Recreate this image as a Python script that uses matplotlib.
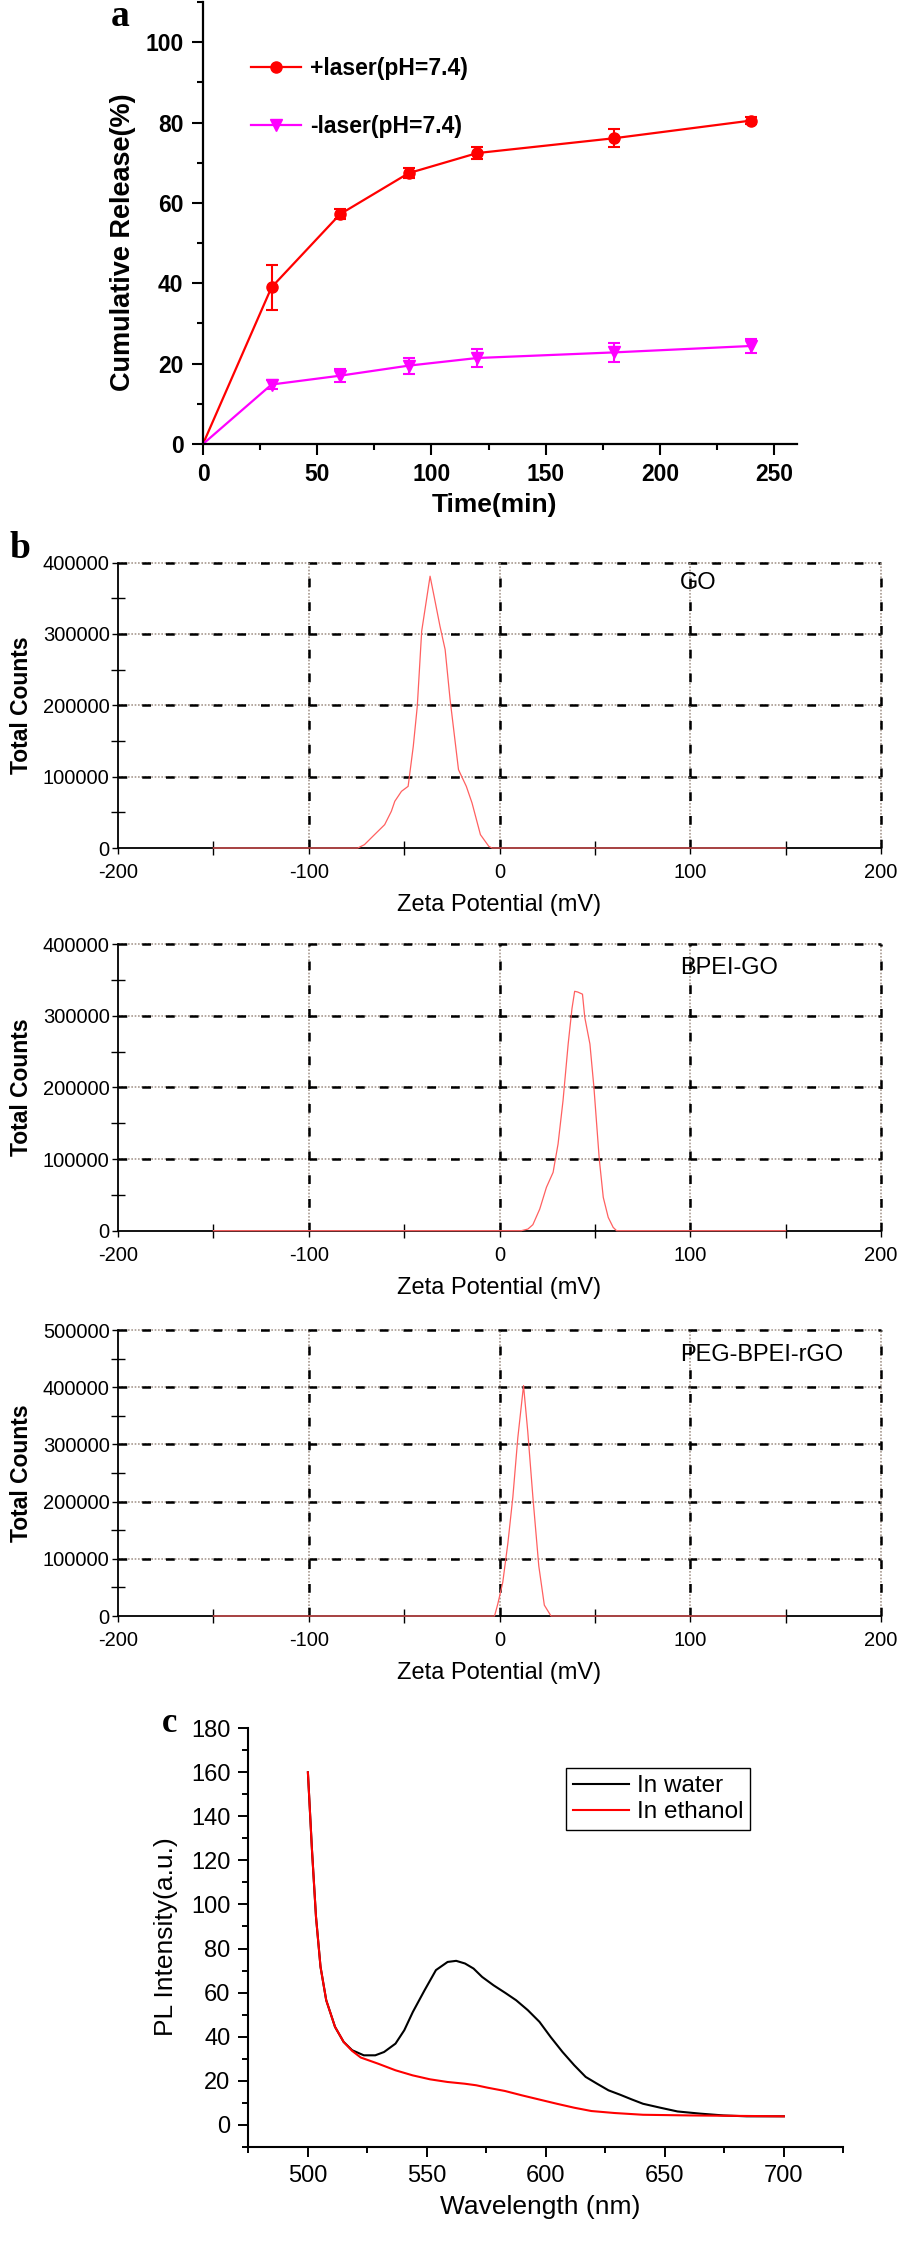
import matplotlib
matplotlib.use('Agg')
import matplotlib.pyplot as plt
from matplotlib.lines import Line2D
from matplotlib.ticker import MultipleLocator

plt.rcParams['font.family'] = ['Liberation Sans', 'DejaVu Sans']

# ---- panel a: cumulative release ----
time_min = [0, 30, 60, 90, 120, 180, 240]
laser_on = [0, 39.0, 57.2, 67.4, 72.4, 76.1, 80.5]
laser_on_err = [0, 5.6, 1.2, 1.3, 1.4, 2.3, 0.8]
laser_off = [0, 14.8, 17.0, 19.5, 21.4, 22.8, 24.4]
laser_off_err = [0, 1.2, 1.6, 2.0, 2.2, 2.3, 1.8]

# ---- panel b: zeta potential distributions ----
go_x = [-150, -74.3, -70.8, -66.4, -60.2, -56.7, -54.9, -51.4, -47.9, -45.2, -43.1, -40.8,
        -36.4, -34.3, -31.2, -28.5, -25.9, -21.5, -17.4, -14.4, -10, -5.6, -3.9, 150]
go_y = [0, 0, 4700, 16400, 32700, 51400, 65400, 79400, 86400, 142500, 198600, 303700,
        380800, 352800, 310700, 278000, 208000, 109800, 86400, 63100, 18700, 2300, 0, 0]
bpei_x = [-150, 11.4, 14.9, 17.5, 21.1, 24.6, 28.1, 30.7, 33.3, 36, 38, 39.4, 41, 43.5,
          44.7, 47.4, 49.5, 52.3, 54.4, 57, 59.6, 61.4, 150]
bpei_y = [0, 0, 2300, 8400, 30200, 60500, 81400, 121000, 181400, 260500, 310000, 334000,
          333000, 330000, 297700, 260500, 200000, 100000, 46500, 18600, 4600, 0, 0]
peg_x = [-150, -2.6, -0.9, 1.7, 4.4, 7, 9.6, 12.6, 14.8, 17.5, 20.6, 23.5, 27, 150]
peg_y = [0, 0, 21000, 58600, 127600, 208000, 311500, 402900, 323000, 208000, 87400,
         19000, 0, 0]
zeta_names = ['GO', 'BPEI-GO', 'PEG-BPEI-rGO']
zeta_ymax = [400000, 400000, 500000]

# ---- panel c: PL spectra ----
wl_water = [500, 501.7, 503.4, 505.3, 507.7, 511.4, 515, 518.6, 523.5, 528.3, 532, 536.8,
            540.5, 544.1, 549, 553.8, 558.7, 562.3, 566, 569.6, 573.2, 578, 583, 587.5,
            592.4, 597.3, 602, 607, 611.9, 616.7, 621.5, 626.3, 631.2, 636, 640.8, 648.1,
            655.3, 665, 674.6, 684.3, 700]
pl_water = [160, 125, 94.4, 71.7, 56.5, 44.4, 37.6, 33.8, 31.5, 31.5, 33, 36.8,
            42.9, 51.2, 61, 70.2, 73.9, 74.4, 73.2, 70.9, 67.1, 63.3, 59.8, 56.5,
            52, 46.7, 39.8, 33, 27, 21.7, 18.6, 15.6, 13.6, 11.5, 9.5, 7.7,
            6, 5, 4.2, 3.8, 3.8]
wl_ethanol = [500, 501.7, 503.4, 505.3, 507.7, 511.4, 515, 518.6, 522.2, 529.5, 536.8, 544,
              551.3, 558.6, 565.9, 570.7, 575.5, 582.8, 590, 597.3, 604.6, 611.9, 619.1,
              628.8, 640.8, 660.2, 700]
pl_ethanol = [160, 125, 94.4, 71.7, 56.5, 44.4, 37.6, 33.5, 30.5, 27.7, 24.7, 22.4,
              20.6, 19.4, 18.6, 17.9, 16.8, 15.3, 13.3, 11.4, 9.5, 7.7, 6.2,
              5.3, 4.5, 4.2, 3.8]

W, H = 898, 2242
fig = plt.figure(figsize=(W / 100, H / 100), dpi=100)


def ax_at(l, t, r, b):
    return fig.add_axes([l / W, 1 - b / H, (r - l) / W, (b - t) / H])


def txt(x, y, s, **kw):
    kw.setdefault('ha', 'center')
    kw.setdefault('va', 'center')
    fig.text(x / W, 1 - y / H, s, **kw)


# panel a
ax = ax_at(203, 2, 797, 444)
ax.plot(time_min, laser_on, color='#ff0000', lw=1.6)
ax.plot(time_min, laser_off, color='#ff00ff', lw=1.6)
ax.errorbar(time_min[1:], laser_on[1:], yerr=laser_on_err[1:], fmt='o', color='#ff0000',
            ms=8, capsize=4, capthick=1.5, elinewidth=1.5)
ax.errorbar(time_min[1:], laser_off[1:], yerr=laser_off_err[1:], fmt='v', color='#ff00ff',
            ms=8, capsize=4, capthick=1.5, elinewidth=1.5)
ax.set_xlim(0, 260)
ax.set_ylim(0, 110)
ax.set_xticks(range(0, 251, 50))
ax.set_xticklabels([str(v) for v in range(0, 251, 50)], fontweight='bold')
ax.set_yticks(range(0, 101, 20))
ax.set_yticklabels([str(v) for v in range(0, 101, 20)], fontweight='bold')
ax.xaxis.set_minor_locator(MultipleLocator(25))
ax.yaxis.set_minor_locator(MultipleLocator(10))
ax.tick_params(which='major', direction='out', length=8, width=1.5, labelsize=16.5, pad=6)
ax.tick_params(which='minor', direction='out', length=4, width=1.5)
for s in ['top', 'right']:
    ax.spines[s].set_visible(False)
for s in ['left', 'bottom']:
    ax.spines[s].set_linewidth(1.6)
handles = [Line2D([], [], color='#ff0000', marker='o', ms=8, lw=1.6),
           Line2D([], [], color='#ff00ff', marker='v', ms=8, lw=1.6)]
ax.legend(handles, ['+laser(pH=7.4)', '-laser(pH=7.4)'], loc='upper left',
          bbox_to_anchor=(0.08, 0.875), frameon=False, borderpad=0, borderaxespad=0,
          handlelength=2.2, handletextpad=0.4, labelspacing=1.5,
          prop={'weight': 'bold', 'size': 16.5})
txt(120, 17, 'a', family='Liberation Serif', fontweight='bold', fontsize=27)
txt(123, 242, 'Cumulative Release(%)', rotation=90, fontweight='bold', fontsize=19.5)
txt(494, 505, 'Time(min)', fontweight='bold', fontsize=19)

# panel b
zeta_boxes = [(562.5, 848), (944, 1230.7), (1330, 1616)]
zeta_data = [(go_x, go_y), (bpei_x, bpei_y), (peg_x, peg_y)]
name_y = [583, 968, 1355]
for (top, bot), (zx, zy), name, ymax, ny in zip(zeta_boxes, zeta_data, zeta_names,
                                                 zeta_ymax, name_y):
    ax = ax_at(118, top, 881, bot)
    ax.plot(zx, zy, color='#ff6060', lw=0.9, clip_on=False, zorder=3)
    ax.set_xlim(-200, 200)
    ax.set_ylim(0, ymax)
    xt = list(range(-200, 201, 100))
    yt = list(range(0, ymax + 1, 100000))
    ax.set_xticks(xt)
    ax.set_xticklabels([str(v) for v in xt])
    ax.set_yticks(yt)
    ax.set_yticklabels([str(v) for v in yt])
    ax.xaxis.set_minor_locator(MultipleLocator(50))
    ax.yaxis.set_minor_locator(MultipleLocator(50000))
    ax.tick_params(which='major', direction='out', length=4, width=1.0, labelsize=14.5, pad=2)
    ax.tick_params(axis='x', which='major', pad=7)
    ax.tick_params(which='minor', direction='inout', length=10, width=1.0)
    for s in ['top', 'right']:
        ax.spines[s].set_visible(False)
    for s in ['left', 'bottom']:
        ax.spines[s].set_linewidth(1.3)
    for yv in yt[1:]:
        ax.axhline(yv, color='#a89a90', lw=1.2, ls=(0, (1, 1)), clip_on=False, zorder=1)
        ax.axhline(yv, color='black', lw=1.8, ls=(0, (3.5, 6)), clip_on=False, zorder=1)
    for xv in xt[1:]:
        ax.axvline(xv, color='#a89a90', lw=1.2, ls=(0, (1, 1)), clip_on=False, zorder=1)
        ax.axvline(xv, color='black', lw=1.8, ls=(0, (3.5, 6)), clip_on=False, zorder=1)
    txt(680, ny, name, ha='left', fontsize=17)
    txt(22, (top + bot) / 2, 'Total Counts', rotation=90, fontweight='bold', fontsize=16.5)
    txt(499, bot + 57, 'Zeta Potential (mV)', fontsize=17)
txt(20, 548, 'b', family='Liberation Serif', fontweight='bold', fontsize=27)

# panel c
ax = ax_at(248.4, 1728.3, 843.4, 2146.7)
ax.plot(wl_water, pl_water, color='black', lw=1.5, label='In water')
ax.plot(wl_ethanol, pl_ethanol, color='#ff0000', lw=1.5, label='In ethanol')
ax.set_xlim(475, 725)
ax.set_ylim(-10, 180)
ax.set_xticks(range(500, 701, 50))
ax.set_yticks(range(0, 181, 20))
ax.xaxis.set_minor_locator(MultipleLocator(25))
ax.yaxis.set_minor_locator(MultipleLocator(10))
ax.tick_params(which='major', direction='out', length=7, width=1.4, labelsize=17, pad=6)
ax.tick_params(which='minor', direction='out', length=4, width=1.4)
for s in ['top', 'right']:
    ax.spines[s].set_visible(False)
for s in ['left', 'bottom']:
    ax.spines[s].set_linewidth(1.5)
leg = ax.legend(loc='upper left', bbox_to_anchor=(0.534, 0.905), fancybox=False,
                edgecolor='black', borderaxespad=0, borderpad=0.3, handlelength=2.3,
                handletextpad=0.3, labelspacing=0.15, fontsize=17.5, framealpha=1)
leg.get_frame().set_linewidth(1.0)
txt(170, 1723, 'c', family='Liberation Serif', fontweight='bold', fontsize=25)
txt(166, 1937, 'PL Intensity(a.u.)', rotation=90, fontsize=19)
txt(540, 2207, 'Wavelength (nm)', fontsize=19)

fig.savefig('out.png', dpi=100)
